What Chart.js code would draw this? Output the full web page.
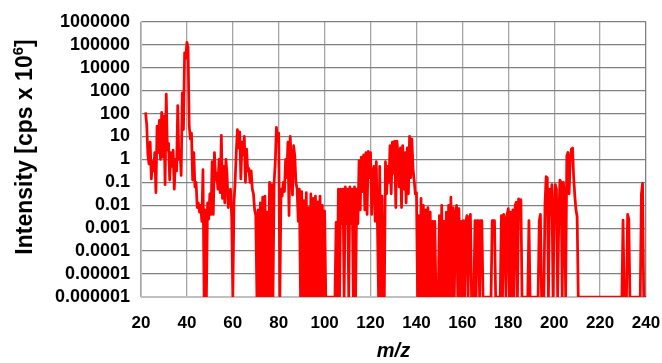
<!DOCTYPE html>
<html>
<head>
<meta charset="utf-8">
<script src="https://cdn.jsdelivr.net/npm/chart.js@4"></script>
<style>
  html, body { margin: 0; padding: 0; background: #fff; }
  canvas { display: block; }
</style>
</head>
<body>
<canvas id="spectrum" width="662" height="363"></canvas>
<script>
// m/z sampling of the trace (first point and step)
const mzStart = 22;
const mzStep = 0.5;

// log10 of intensity [cps x 10^6], one value per 0.5 m/z
// -6 is the floor of the axis (nothing detected)
const logIntensity = [
  2.05, 1.5, 0.2, -0.2, 0.75, -0.85, -0.1, -0.5, 0.3, -1.45, 1.45, 0.3, 1.7, 0.0, 2.05, 0.1, 1.9, -1.1, 2.85, 0.4,      // 22-31.5
  0.7, -0.9, 0.3, -0.3, 0.4, -1.3, 0.0, -0.5, 2.35, 0.0, 0.4, -0.7, 2.9, 1.3, 4.65, 4.4, 5.1, 4.9, 1.45, 0.9,           // 32-41.5
  1.15, -0.9, 0.3, -1.2, -1.0, -2.1, -1.9, -2.3, -2.0, -2.7, -0.45, -6, -2.2, -6, -1.9, -2.6, -1.5, -2.4, -0.1, -2.4,   // 42-51.5
  0.3, -0.9, -0.6, -1.3, 0.0, -1.45, 1.05, -1.7, -0.3, -1.9, 0.0, -0.7, -2.1, -1.4, -1.3, -2.5, -6, -1.9, -1.0, 0.3,    // 52-61.5
  1.3, 0.5, 1.2, -0.85, 0.75, 0.2, 1.0, -1.0, 0.45, -0.5, -0.4, -1.0, -0.5, -1.3, -1.5, -2.2, -2.45, -6, -2.2, -6,      // 62-71.5
  -1.9, -6, -1.65, -6, -1.6, -6, -2.3, -6, -1.0, -6, -1.1, -6, -1.0, -0.1, 1.4, 0.8, 1.15, -6, -1.3, -1.6,             // 72-81.5
  -1.0, -1.4, 0.0, -0.8, 0.75, -2.45, 1.0, -0.15, -1.55, 0.6, 0.15, -1.0, -1.3, -2.7, -1.3, -6, -1.4, -6, -1.8, -6,     // 82-91.5
  -1.45, -6, -2.1, -6, -1.5, -6, -1.7, -6, -1.6, -6, -1.85, -6, -1.6, -6, -2.0, -6, -2.25, -6, -6, -6,                 // 92-101.5
  -6, -6, -6, -6, -6, -6, -2.75, -6, -1.3, -6, -1.3, -2.8, -1.3, -6, -1.2, -2.8, -1.3, -6, -1.2, -2.8,                 // 102-111.5
  -1.3, -6, -1.2, -6, -1.3, -2.8, -0.05, -2.2, 0.1, -1.4, 0.2, -2.2, 0.3, -2.4, 0.35, -0.8, 0.3, -2.4, -0.6, -0.3,      // 112-121.5
  -2.7, -0.1, -2.8, -6, -0.3, -6, -1.6, -6, -6, -0.1, -1.5, -0.3, -1.0, 0.6, -1.5, 0.75, -0.6, 0.8, -2.1, 0.8,          // 122-131.5
  0.2, -1.2, 0.5, -2.1, 0.6, -1.3, 0.3, -1.9, 0.5, -1.5, 1.0, -0.8, 0.9, -0.4, -0.9, -1.5, -1.45, -6, -2.45, -6,        // 132-141.5
  -1.7, -6, -2.0, -6, -2.2, -6, -2.1, -6, -2.3, -6, -2.7, -6, -2.7, -6, -6, -6, -2.45, -6, -2.0, -6,                   // 142-151.5
  -2.7, -6, -2.3, -6, -2.0, -6, -1.65, -6, -2.1, -6, -2.45, -2.0, -6, -2.15, -6, -2.7, -6, -2.67, -6, -2.74,           // 152-161.5
  -2.45, -6, -2.6, -2.4, -6, -6, -6, -2.67, -6, -2.67, -2.67, -6, -2.67, -2.67, -6, -6, -6, -6, -6, -6,                // 162-171.5
  -6, -6, -2.67, -2.67, -2.67, -6, -6, -6, -6, -6, -2.45, -6, -2.4, -2.6, -6, -2.4, -2.15, -6, -2.3, -6,               // 172-181.5
  -2.2, -6, -2.0, -1.87, -6, -1.72, -2.45, -1.75, -6, -6, -6, -6, -6, -6, -2.67, -6, -6, -6, -6, -6,                   // 182-191.5
  -6, -6, -6, -2.67, -2.4, -6, -6, -6, -1.94, -0.75, -0.8, -6, -1.3, -2.4, -1.1, -6, -2.4, -1.1, -1.3, -6,             // 192-201.5
  -2.7, -0.9, -1.0, -6, -1.0, -1.6, -6, 0.15, 0.3, -1.5, 0.0, 0.45, 0.5, -0.8, -1.6, -2.2, -2.5, -6, -6, -6,            // 202-211.5
  -6, -6, -6, -6, -6, -6, -6, -6, -6, -6, -6, -6, -6, -6, -6, -6, -6, -6, -6, -6,                                       // 212-221.5
  -6, -6, -6, -6, -6, -6, -6, -6, -6, -6, -6, -6, -6, -6, -6, -6, -2.65, -6, -6, -6,                                    // 222-231.5
  -2.4, -2.6, -6, -6, -6, -6, -6, -6, -6, -6, -6, -6, -1.5, -1.05, -6, -6, -6                                           // 232-240
];

const xTicks = [20, 40, 60, 80, 100, 120, 140, 160, 180, 200, 220, 240];
const yTicks = [1e-6, 1e-5, 1e-4, 1e-3, 1e-2, 1e-1, 1, 10, 100, 1000, 10000, 100000, 1000000];

const points = logIntensity.map((v, i) => ({ x: mzStart + i * mzStep, y: Math.pow(10, v) }));

const fontFamily = '"Liberation Sans", Arial, sans-serif';

// y axis title with a superscript exponent
const yTitlePlugin = {
    id: 'yTitle',
    afterDraw(chart) {
        const ctx = chart.ctx;
        const main = 'Intensity [cps x 10';
        const sup = '6';
        const end = ']';
        ctx.save();
        ctx.fillStyle = '#000';
        ctx.textBaseline = 'alphabetic';
        ctx.font = 'bold 23px ' + fontFamily;
        const w1 = ctx.measureText(main).width;
        const w3 = ctx.measureText(end).width;
        ctx.font = 'bold 15px ' + fontFamily;
        const w2 = ctx.measureText(sup).width;
        const total = w1 + w2 + w3;
        ctx.translate(32, 147);
        ctx.rotate(-Math.PI / 2);
        let x = -total / 2;
        ctx.font = 'bold 23px ' + fontFamily;
        ctx.fillText(main, x, 0);
        x += w1;
        ctx.font = 'bold 15px ' + fontFamily;
        ctx.fillText(sup, x, -9);
        x += w2;
        ctx.font = 'bold 23px ' + fontFamily;
        ctx.fillText(end, x, 0);
        ctx.restore();
    }
};

new Chart(document.getElementById('spectrum').getContext('2d'), {
    type: 'line',
    data: {
        datasets: [{
            data: points,
            borderColor: '#ff0000',
            borderWidth: 2.75,
            pointRadius: 0,
            tension: 0,
            borderJoinStyle: 'round'
        }]
    },
    options: {
        responsive: false,
        animation: false,
        devicePixelRatio: 1,
        layout: { padding: { top: 21, right: 16, left: 0, bottom: 0 } },
        plugins: { legend: { display: false }, tooltip: { enabled: false } },
        scales: {
            x: {
                type: 'linear',
                min: 20,
                max: 240,
                afterBuildTicks: s => { s.ticks = xTicks.map(v => ({ value: v })); },
                afterFit: s => { s.height = 66; s.paddingLeft = 0; s.paddingRight = 0; },
                ticks: { color: '#000', padding: 16, autoSkip: false, maxRotation: 0, font: { family: fontFamily, size: 17, weight: 'bold' } },
                grid: { color: c => (c.tick && c.tick.value === 240) ? '#808080' : '#a6a6a6', lineWidth: 1.3, drawTicks: false },
                border: { color: '#c0c0c0', width: 1 },
                title: {
                    display: true,
                    text: 'm/z',
                    color: '#000',
                    font: { family: fontFamily, size: 20, weight: 'bold', style: 'italic' },
                    padding: { top: 0, bottom: 0 }
                }
            },
            y: {
                type: 'logarithmic',
                min: 1e-6,
                max: 1e6,
                afterBuildTicks: s => { s.ticks = yTicks.map(v => ({ value: v })); },
                afterFit: s => { s.width = 141; },
                ticks: {
                    color: '#000',
                    padding: 11,
                    autoSkip: false,
                    font: { family: fontFamily, size: 18, weight: 'bold' },
                    callback: v => String(v)
                },
                grid: {
                    color: c => (c.tick && c.tick.value === 1e-6) ? '#c0c0c0' : '#808080',
                    lineWidth: 1.3,
                    drawTicks: false
                },
                border: { color: '#c0c0c0', width: 1 }
            }
        }
    },
    plugins: [yTitlePlugin]
});
</script>
</body>
</html>
